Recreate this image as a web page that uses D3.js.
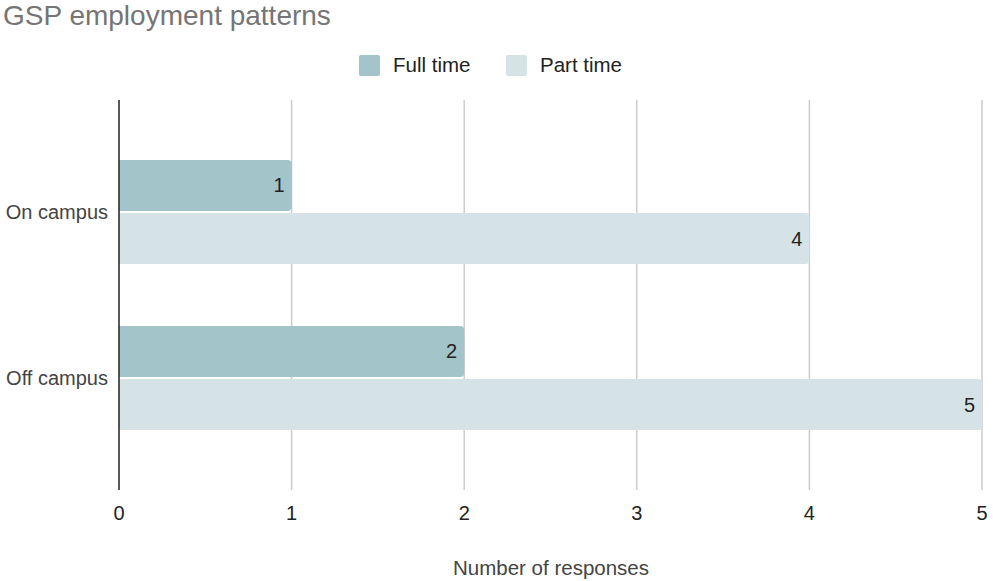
<!DOCTYPE html>
<html>
<head>
<meta charset="utf-8">
<script src="https://cdn.jsdelivr.net/npm/d3@7"></script>
<style>
  body { margin: 0; background: #fff; }
  text { font-family: "Liberation Sans", Arial, sans-serif; }
</style>
</head>
<body>
<div id="chart"></div>
<script>
// Data
const categories = ["On campus", "Off campus"];
const seriesNames = ["Full time", "Part time"];
const fullTime = [1, 2];
const partTime = [4, 5];
const xTicks = [0, 1, 2, 3, 4, 5];
const colors = ["#a3c4c9", "#d5e2e6"];

const width = 993, height = 581;
const plotTop = 100, plotBottom = 490;

const svg = d3.select("#chart")
    .append("svg")
    .attr("width", width)
    .attr("height", height);

const x = d3.scaleLinear().domain([0, 5]).range([119, 982]);
const y = d3.scaleBand().domain(categories).range([129, 461]);
const inner = d3.scaleBand().domain(seriesNames).range([-52, 52]).paddingInner(0.04);

// Title
svg.append("text")
    .attr("x", 3).attr("y", 25)
    .style("font-size", "28px")
    .style("fill", "#757575")
    .text("GSP employment patterns");

// Legend
const legend = svg.append("g");
const legendX = [359, 506];
seriesNames.forEach((name, i) => {
    legend.append("rect")
        .attr("x", legendX[i]).attr("y", 55)
        .attr("width", 21).attr("height", 21)
        .attr("rx", 2)
        .attr("fill", colors[i]);
    legend.append("text")
        .attr("x", legendX[i] + 34).attr("y", 72)
        .style("font-size", "20.5px")
        .style("fill", "#222")
        .text(name);
});

// Gridlines
svg.append("g")
    .selectAll("line")
    .data(xTicks.filter(d => d > 0))
    .enter()
    .append("line")
    .attr("x1", d => x(d)).attr("x2", d => x(d))
    .attr("y1", plotTop).attr("y2", plotBottom)
    .attr("stroke", "#cccccc")
    .attr("stroke-width", 1.5);

// Bars with rounded right ends
function barPath(x0, x1, y0, h, r) {
    r = Math.min(r, (x1 - x0) / 2);
    return `M${x0},${y0}H${x1 - r}Q${x1},${y0} ${x1},${y0 + r}V${y0 + h - r}Q${x1},${y0 + h} ${x1 - r},${y0 + h}H${x0}Z`;
}

const rows = [];
categories.forEach((c, i) => {
    rows.push({ cat: c, series: seriesNames[0], value: fullTime[i], color: colors[0] });
    rows.push({ cat: c, series: seriesNames[1], value: partTime[i], color: colors[1] });
});

const bars = svg.append("g")
    .selectAll("g")
    .data(rows)
    .enter()
    .append("g");

bars.append("path")
    .attr("d", d => {
        const y0 = y(d.cat) + y.bandwidth() / 2 + inner(d.series);
        return barPath(x(0), x(d.value), y0, inner.bandwidth(), 4);
    })
    .attr("fill", d => d.color);

bars.append("text")
    .attr("x", d => x(d.value) - 7)
    .attr("y", d => y(d.cat) + y.bandwidth() / 2 + inner(d.series) + inner.bandwidth() / 2)
    .attr("dy", "0.35em")
    .attr("text-anchor", "end")
    .style("font-size", "20px")
    .style("fill", "#222")
    .text(d => d.value);

// Zero axis line
svg.append("line")
    .attr("x1", x(0)).attr("x2", x(0))
    .attr("y1", plotTop).attr("y2", plotBottom)
    .attr("stroke", "#222")
    .attr("stroke-width", 1.5);

// Y labels
svg.append("g")
    .selectAll("text")
    .data(categories)
    .enter()
    .append("text")
    .attr("x", 108)
    .attr("y", d => y(d) + y.bandwidth() / 2)
    .attr("dy", "0.35em")
    .attr("text-anchor", "end")
    .style("font-size", "20px")
    .style("fill", "#444")
    .text(d => d);

// X tick labels
svg.append("g")
    .selectAll("text")
    .data(xTicks)
    .enter()
    .append("text")
    .attr("x", d => x(d))
    .attr("y", 520)
    .attr("text-anchor", "middle")
    .style("font-size", "20px")
    .style("fill", "#222")
    .text(d => d);

// X axis title
svg.append("text")
    .attr("x", 551).attr("y", 575)
    .attr("text-anchor", "middle")
    .style("font-size", "20.5px")
    .style("fill", "#444")
    .text("Number of responses");
</script>
</body>
</html>
